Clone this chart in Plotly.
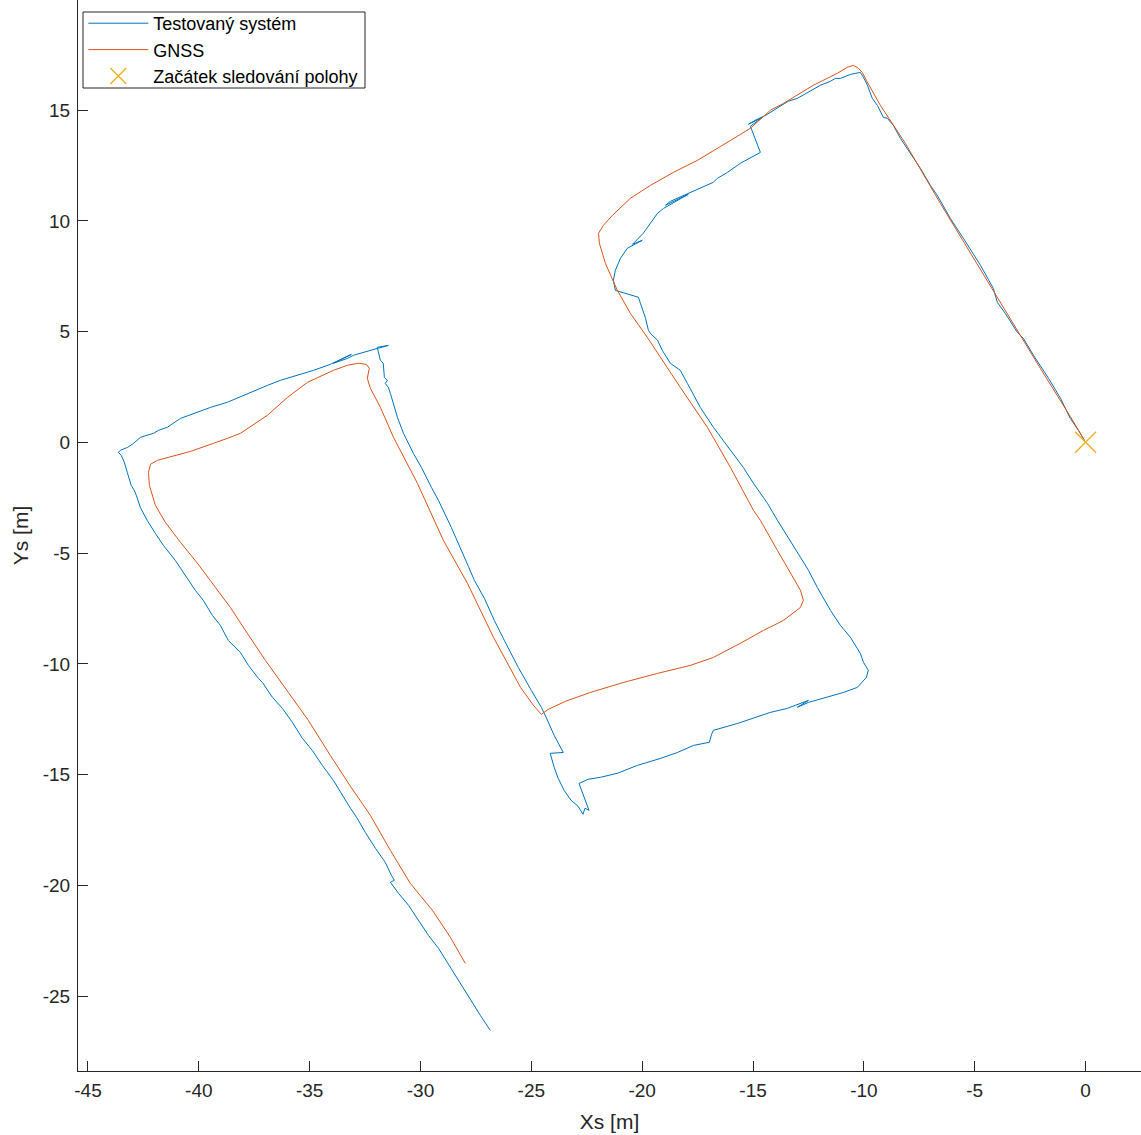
import plotly.graph_objects as go

# Trajectory of the tested positioning system (x, y in metres)
sys_x = [-0.05, -0.32, -0.69, -1.13, -1.67, -2.35, -2.81, -3.08, -3.62, -3.98, -4.16, -4.43, -4.74, -5.51,
         -6.10, -6.69, -7.00, -7.45, -8.04, -8.35, -8.67, -8.94, -9.12, -9.39, -9.62, -9.84, -10.02, -10.16,
         -10.61, -11.06, -11.29, -11.51, -11.96, -12.50, -13.00, -13.41, -13.77, -14.44, -14.90, -15.21,
         -14.58, -15.12, -14.67, -15.57, -16.15, -16.61, -16.79, -17.38, -17.83, -18.28, -18.73, -18.95,
         -17.92, -19.04, -19.31, -19.63, -19.95, -20.44, -20.00, -20.67, -20.98, -21.21, -21.30, -21.21,
         -20.17, -20.08, -19.86, -19.72, -19.63, -19.31, -19.09, -18.73, -18.28, -17.96, -17.38, -16.79,
         -16.34, -15.89, -15.44, -14.98, -14.35, -13.90, -13.32, -12.86, -12.50, -12.10, -11.51, -11.06,
         -10.61, -10.39, -10.16, -10.02, -9.80, -9.89, -10.29, -10.92, -11.83, -12.50, -13.00, -12.50,
         -13.09, -13.45, -14.22, -14.98, -15.70, -16.79, -16.87, -16.97, -17.68, -18.41, -19.18, -20.21,
         -21.12, -21.88, -22.44, -22.85, -22.40, -22.58, -22.67, -22.89, -23.21, -23.52, -23.79, -23.97,
         -24.15, -23.56, -23.74, -23.97, -24.33, -24.55, -25.00, -25.59, -26.22, -26.67, -27.12, -27.57,
         -27.84, -28.15, -28.61, -29.19, -29.51, -29.96, -30.32, -30.77, -31.04, -31.36, -31.45, -31.59,
         -31.49, -31.63, -31.68, -31.68, -31.81, -31.90, -31.95, -31.45, -31.59, -31.95, -32.58, -33.03,
         -33.30, -33.93, -33.12, -34.07, -34.83, -35.42, -36.32, -36.91, -37.67, -38.71, -39.47, -40.24,
         -40.83, -41.42, -41.82, -42.04, -42.63, -42.95, -43.22, -43.54, -43.63, -43.50, -43.36, -43.23,
         -43.05, -42.91, -42.82, -42.64, -42.33, -41.96, -41.60, -41.06, -40.61, -40.16, -39.80, -39.39,
         -39.03, -38.67, -38.13, -37.76, -37.31, -37.13, -36.68, -36.23, -35.78, -35.33, -34.88, -34.43,
         -33.93, -33.52, -33.16, -32.85, -32.49, -32.03, -31.59, -31.31, -31.18, -31.36, -30.99, -30.54,
         -30.09, -29.64, -29.19, -28.79, -28.43, -28.06, -27.66, -27.30, -26.85]
sys_y = [0.09, 0.54, 1.08, 1.99, 2.89, 3.93, 4.70, 4.97, 5.82, 6.32, 6.95, 7.45, 7.99, 9.21,
         10.11, 11.15, 11.60, 12.37, 13.27, 13.72, 14.31, 14.63, 14.67, 15.21, 15.53, 16.12, 16.48, 16.70,
         16.61, 16.43, 16.43, 16.30, 16.12, 15.80, 15.53, 15.40, 15.17, 14.76, 14.54, 14.36,
         14.67, 14.27, 13.09, 12.60, 12.19, 11.92, 11.74, 11.47, 11.29, 11.06, 10.88, 10.70,
         11.20, 10.56, 10.34, 9.89, 9.44, 8.94, 9.12, 8.76, 8.31, 7.77, 7.31, 6.86,
         6.55, 6.28, 5.64, 5.06, 4.92, 4.61, 4.15, 3.57, 3.25, 2.66, 1.58, 0.68,
         0.09, -0.50, -1.13, -1.85, -2.75, -3.52, -4.42, -5.19, -5.78, -6.55, -7.58, -8.26,
         -8.80, -9.16, -9.53, -9.93, -10.29, -10.61, -11.06, -11.29, -11.56, -11.74, -11.96, -11.65,
         -11.87, -12.01, -12.19, -12.46, -12.69, -13.00, -13.18, -13.54, -13.68, -14.00, -14.27, -14.58,
         -14.94, -15.12, -15.21, -15.40, -16.61, -16.52, -16.79, -16.43, -16.16, -15.71, -15.17, -14.67,
         -14.04, -14.00, -13.68, -13.23, -12.42, -11.96, -11.20, -10.16, -8.94, -8.04, -7.04, -6.23,
         -5.60, -4.88, -3.84, -2.62, -2.03, -1.13, -0.50, 0.41, 1.13, 2.21, 2.48, 2.66,
         2.80, 2.93, 3.34, 3.57, 3.70, 4.06, 4.29, 4.38, 4.33, 4.24, 4.06, 3.93,
         3.79, 3.57, 3.97, 3.52, 3.25, 3.07, 2.80, 2.57, 2.26, 1.81, 1.58, 1.31,
         1.08, 0.68, 0.54, 0.41, 0.23, -0.05, -0.23, -0.36, -0.45, -0.59, -0.90, -1.35,
         -1.94, -2.17, -2.39, -2.93, -3.52, -4.11, -4.65, -5.33, -6.00, -6.68, -7.13, -7.81,
         -8.26, -8.94, -9.48, -10.07, -10.66, -10.84, -11.51, -12.01, -12.64, -13.36, -13.91, -14.58,
         -15.26, -15.94, -16.52, -16.98, -17.61, -18.33, -18.96, -19.55, -19.77, -19.86, -20.36, -20.90,
         -21.58, -22.26, -22.84, -23.48, -24.06, -24.65, -25.33, -25.87, -26.55]

# GNSS reference trajectory (x, y in metres)
gnss_x = [0.00, -0.69, -2.04, -3.84, -5.20, -6.55, -8.13, -9.26, -9.89, -10.07, -10.25, -10.48, -10.75,
          -11.20, -12.28, -12.86, -13.63, -14.22, -15.12, -16.02, -17.51, -18.59, -19.63, -20.53, -21.34,
          -21.75, -21.97, -21.93, -21.66, -21.12, -20.53, -19.77, -19.18, -18.28, -17.06, -16.02, -14.98,
          -14.67, -13.90, -13.32, -12.86, -12.73, -12.86, -13.63, -14.53, -15.57, -16.79, -17.83, -19.31,
          -20.85, -22.34, -23.46, -24.23, -24.55, -24.91, -25.49, -26.71, -27.88, -28.97, -30.14, -31.22,
          -31.81, -32.26, -32.40, -32.31, -32.44, -32.80, -33.30, -33.93, -35.10, -36.00, -36.91, -38.12,
          -38.71, -40.38, -41.87, -42.18, -42.27, -42.23, -41.96, -41.51, -40.83, -40.06, -39.25, -38.58,
          -37.81, -37.00, -35.96, -35.06, -34.07, -33.16, -32.26, -31.36, -30.46, -29.46, -28.65, -27.98]
gnss_y = [0.00, 1.17, 3.34, 6.32, 8.58, 10.79, 13.50, 15.22, 16.34, 16.70, 16.89, 17.02, 16.93,
          16.66, 16.12, 15.76, 15.30, 14.99, 14.18, 13.63, 12.73, 12.19, 11.60, 11.02, 10.25,
          9.80, 9.44, 8.98, 8.08, 6.86, 5.82, 4.74, 3.84, 2.48, 0.68, -1.13, -3.07,
          -3.52, -4.88, -5.91, -6.68, -7.13, -7.45, -8.04, -8.49, -9.07, -9.71, -10.07, -10.43,
          -10.84, -11.29, -11.69, -12.05, -12.28, -11.87, -11.06, -8.80, -6.37, -4.42, -1.85, 0.23,
          1.58, 2.44, 2.89, 3.34, 3.52, 3.57, 3.48, 3.25, 2.71, 2.03, 1.22, 0.41,
          0.18, -0.41, -0.81, -0.99, -1.35, -1.94, -2.84, -3.61, -4.51, -5.46, -6.55, -7.45,
          -8.62, -9.84, -11.29, -12.55, -14.13, -15.53, -16.84, -18.42, -19.91, -21.13, -22.35, -23.52]

# Point where position tracking starts
start_x = [0.0]
start_y = [0.0]

x_ticks = [-45, -40, -35, -30, -25, -20, -15, -10, -5, 0]
x_tick_text = ["-45", "-40", "-35", "-30", "-25", "-20", "-15", "-10", "-5", "0"]
y_ticks = [-25, -20, -15, -10, -5, 0, 5, 10, 15]
y_tick_text = ["-25", "-20", "-15", "-10", "-5", "0", "5", "10", "15"]

FONT = "Liberation Sans, Arial, sans-serif"
INK = "#262626"

fig = go.Figure()
fig.add_trace(go.Scatter(x=sys_x, y=sys_y, mode="lines", name="Testovaný systém",
                         line=dict(color="#0072BD", width=1.0)))
fig.add_trace(go.Scatter(x=gnss_x, y=gnss_y, mode="lines", name="GNSS",
                         line=dict(color="#D95319", width=1.0)))
fig.add_trace(go.Scatter(x=start_x, y=start_y, mode="markers", name="Začátek sledování polohy",
                         marker=dict(symbol="x-thin", size=21, color="#EDB120",
                                     line=dict(color="#EDB120", width=1.4))))

axis_common = dict(
    showgrid=False, zeroline=False, showline=True, linecolor=INK, linewidth=1,
    ticks="inside", ticklen=10, tickwidth=1, tickcolor=INK,
    tickfont=dict(family=FONT, size=19, color=INK),
)

# Legend frame drawn as a rectangle in paper coordinates
PLOT_W, PLOT_H = 1063, 1071
legend_frame = dict(type="rect", xref="paper", yref="paper",
                    x0=(83 - 78) / PLOT_W, x1=(365 - 78) / PLOT_W,
                    y0=1 - 88 / PLOT_H, y1=1 - 12 / PLOT_H,
                    line=dict(color=INK, width=1), fillcolor="white", layer="above")

fig.update_layout(
    width=1141, height=1135,
    margin=dict(l=78, r=0, t=0, b=64, autoexpand=False),
    paper_bgcolor="white", plot_bgcolor="white",
    font=dict(family=FONT, color=INK),
    xaxis=dict(range=[-45.45, 2.50], tickvals=x_ticks, ticktext=x_tick_text, ticklabelstandoff=2,
               title=dict(text="Xs [m]", font=dict(family=FONT, size=21, color=INK), standoff=14),
               **axis_common),
    yaxis=dict(range=[-28.38, 19.97], tickvals=y_ticks, ticktext=y_tick_text, ticklabelstandoff=3,
               title=dict(text="Ys [m]", font=dict(family=FONT, size=21, color=INK), standoff=8),
               **axis_common),
    legend=dict(x=0.005, y=1 - 5 / PLOT_H, xanchor="left", yanchor="top",
                bgcolor="rgba(0,0,0,0)", borderwidth=0,
                font=dict(family=FONT, size=18, color="black"),
                itemwidth=60, tracegroupgap=0),
    shapes=[legend_frame],
    showlegend=True,
)

fig.write_html("out.html")
